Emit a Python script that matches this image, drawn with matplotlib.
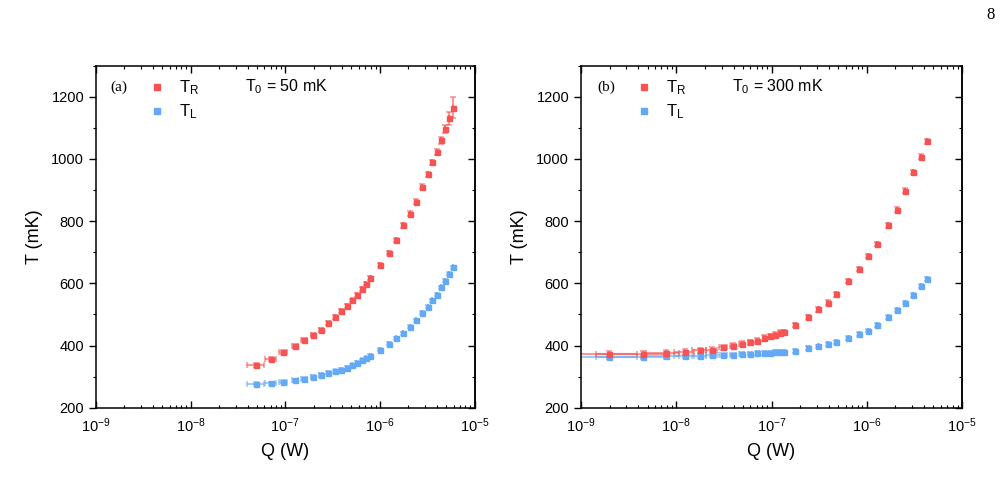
import numpy as np
import matplotlib
matplotlib.use("Agg")
import matplotlib.pyplot as plt
from matplotlib.ticker import (FixedLocator, MultipleLocator, NullFormatter,
                               LogFormatterMathtext)

plt.rcParams['font.family'] = ['Liberation Sans', 'DejaVu Sans']
plt.rcParams['mathtext.fontset'] = 'custom'
plt.rcParams['mathtext.rm'] = 'Liberation Sans'
plt.rcParams['mathtext.it'] = 'Liberation Sans:italic'

# ---------------- data: panel (a), T0 = 50 mK ----------------
q_a = [4.91e-8, 7.08e-8, 9.55e-8, 1.27e-7, 1.58e-7, 1.95e-7, 2.37e-7, 2.86e-7,
       3.36e-7, 3.89e-7, 4.47e-7, 5.05e-7, 5.70e-7, 6.44e-7, 7.10e-7, 7.87e-7,
       1.00e-6, 1.24e-6, 1.48e-6, 1.76e-6, 2.08e-6, 2.42e-6, 2.77e-6, 3.21e-6,
       3.56e-6, 3.99e-6, 4.44e-6, 4.92e-6, 5.43e-6, 5.98e-6]
tr_a = [338, 357, 378, 399, 419, 435, 451, 472, 492, 510, 528, 545, 563, 582,
        599, 617, 660, 699, 740, 786, 824, 863, 910, 951, 989, 1022, 1060, 1096,
        1130, 1164]
tr_a_err = [6, 6, 6, 6, 6, 6, 6, 6, 6, 6, 6, 6, 6, 6, 6, 6, 6, 6, 7, 7, 7, 7,
            8, 8, 9, 10, 11, 14, 21, 34]
tl_a = [277, 279, 283, 288, 293, 299, 305, 312, 317, 322, 329, 336, 344, 352,
        359, 367, 387, 406, 423, 440, 460, 481, 505, 524, 545, 563, 587, 608,
        631, 652]
tl_a_err = [5] * 30
qerr_a = [1.0e-8] * 30

# ---------------- data: panel (b), T0 = 300 mK ----------------
q_b = [1.98e-9, 4.45e-9, 7.80e-9, 1.24e-8, 1.77e-8, 2.36e-8, 3.12e-8, 3.97e-8,
       4.86e-8, 5.94e-8, 7.10e-8, 8.39e-8, 9.64e-8, 1.09e-7, 1.23e-7, 1.35e-7,
       1.77e-7, 2.40e-7, 3.10e-7, 3.89e-7, 4.75e-7, 6.40e-7, 8.30e-7, 1.04e-6,
       1.28e-6, 1.66e-6, 2.06e-6, 2.54e-6, 3.08e-6, 3.68e-6, 4.30e-6]
tr_b = [372, 373, 375, 379, 384, 387, 394, 400, 406, 410, 416, 424, 429, 435,
        440, 442, 465, 492, 516, 538, 564, 607, 646, 687, 726, 786, 837, 898,
        957, 1007, 1056]
tr_b_err = [9] * 16 + [7] * 9 + [7, 7, 7, 7, 8, 9]
tl_b = [364, 364, 365, 365, 367, 368, 370, 371, 373, 374, 375, 376, 377, 378,
        379, 380, 383, 391, 397, 405, 411, 424, 436, 448, 466, 492, 515, 538,
        563, 591, 615]
tl_b_err = [6] * 31
qerr_b = [1.9e-9, 3.0e-9, 3.0e-9] + [3.0e-9] * 13 + [5.0e-9] * 15

RED = '#F85353'
BLUE = '#63A9F5'

W, H = 1007, 491
fig = plt.figure(figsize=(W / 100, H / 100), dpi=100)

def fx(px):
    return px / W

def fy(py):
    return 1 - py / H

ax_a = fig.add_axes([fx(96), fy(407.7), fx(378.5), (407.7 - 65.6) / H])
ax_b = fig.add_axes([fx(581), fy(407.7), fx(381), (407.7 - 65.6) / H])

major_x = [1e-9, 1e-8, 1e-7, 1e-6, 1e-5]
minor_x = [m * 10.0 ** e for e in range(-9, -5) for m in range(2, 10)]

def draw(ax, q, qe, tr, tre, tl, tle):
    for t, te, c in ((tl, tle, BLUE), (tr, tre, RED)):
        ax.errorbar(q, t, yerr=te, xerr=qe, fmt='none', ecolor=c, alpha=0.6,
                    elinewidth=1.5, capsize=2.3, capthick=1.2, zorder=2)
        ax.plot(q, t, 's', color=c, ms=3.6, mec=c, zorder=3)
    ax.set_xscale('log')
    ax.set_xlim(1e-9, 1e-5)
    ax.set_ylim(200, 1300)
    ax.xaxis.set_major_locator(FixedLocator(major_x))
    ax.xaxis.set_major_formatter(LogFormatterMathtext())
    ax.xaxis.set_minor_locator(FixedLocator(minor_x))
    ax.xaxis.set_minor_formatter(NullFormatter())
    ax.yaxis.set_major_locator(MultipleLocator(200))
    ax.yaxis.set_minor_locator(MultipleLocator(100))
    ax.tick_params(axis='x', which='both', direction='in', top=True, bottom=True,
                   labelsize=10.5, pad=6)
    ax.tick_params(axis='x', which='major', length=5, width=1)
    ax.tick_params(axis='x', which='minor', length=2.5, width=0.8)
    ax.tick_params(axis='y', which='both', direction='out', left=True, right=False,
                   labelsize=10.5)
    ax.tick_params(axis='y', which='major', length=5, width=1)
    ax.tick_params(axis='y', which='minor', length=2.5, width=0.8)
    sec = ax.secondary_yaxis('right')
    sec.yaxis.set_major_locator(MultipleLocator(200))
    sec.yaxis.set_minor_locator(MultipleLocator(100))
    sec.tick_params(which='both', direction='in', labelright=False)
    sec.tick_params(which='major', length=5, width=1)
    sec.tick_params(which='minor', length=2.5, width=0.8)
    for s in ax.spines.values():
        s.set_linewidth(1.1)
    sec.spines['right'].set_linewidth(1.1)
    ax.set_xlabel('Q (W)', fontsize=13, labelpad=6)
    ax.set_ylabel('T (mK)', fontsize=13, labelpad=6)

draw(ax_a, q_a, qerr_a, tr_a, tr_a_err, tl_a, tl_a_err)
draw(ax_b, q_b, qerr_b, tr_b, tr_b_err, tl_b, tl_b_err)

# legends and annotations
def annotate(x0, label, t0text):
    fig.text(fx(x0 + 13), fy(87), label, family='Liberation Serif', fontsize=11,
             ha='left', va='center')
    fig.text(fx(x0 + 82), fy(88), r'$\mathregular{T_R}$', fontsize=12, ha='left', va='center')
    fig.text(fx(x0 + 82), fy(112), r'$\mathregular{T_L}$', fontsize=12, ha='left', va='center')
    fig.lines.append(plt.Line2D([fx(x0 + 60)], [fy(87)], marker='s', ms=3.8, color=RED,
                                transform=fig.transFigure, figure=fig))
    fig.lines.append(plt.Line2D([fx(x0 + 60)], [fy(111)], marker='s', ms=3.8, color=BLUE,
                                transform=fig.transFigure, figure=fig))
    fig.text(fx(x0 + 148), fy(87), t0text, fontsize=11.5, ha='left', va='center')

annotate(97, '(a)', r'$\mathregular{T_0}$ = 50 mK')
annotate(584, '(b)', r'$\mathregular{T_0}$ = 300 mK')

fig.text(fx(991), fy(15), '8', family='Liberation Serif', fontsize=12, ha='center', va='center')

fig.savefig('out.png', dpi=100)
